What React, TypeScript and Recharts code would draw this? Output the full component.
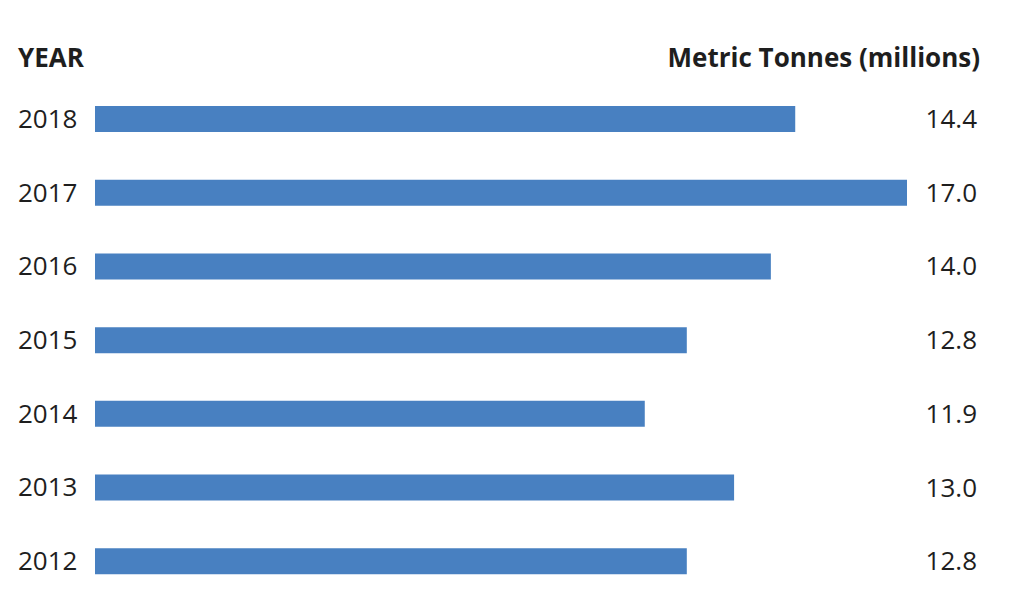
import React from 'react';
import { BarChart, Bar, XAxis, YAxis, LabelList } from 'recharts';

const years = ['2018', '2017', '2016', '2015', '2014', '2013', '2012'];
const tonnesLabels = ['14.4', '17.0', '14.0', '12.8', '11.9', '13.0', '12.8'];
// bar lengths as drawn in the reference (millions of tonnes)
const barValues = [14.66, 17.0, 14.15, 12.39, 11.51, 13.38, 12.39];

const headerLeft = 'YEAR';
const headerRight = 'Metric Tonnes (millions)';

const data = years.map((y, i) => ({ year: y, value: barValues[i], label: tonnesLabels[i] }));

const FONT = '"Open Sans", sans-serif';
const TEXT = '#1e1e1e';
const BAR = '#4880C1';

const YearTick = (props: any) => {
  const { y, payload } = props;
  return (
    <text x={18} y={y} dy={9} textAnchor="start" fontFamily={FONT} fontSize={26} fill={TEXT}>
      {payload.value}
    </text>
  );
};

const ValueLabel = (props: any) => {
  const { y, height, index } = props;
  return (
    <text x={977} y={y + height / 2} dy={9} textAnchor="end" fontFamily={FONT} fontSize={26} fill={TEXT}>
      {tonnesLabels[index]}
    </text>
  );
};

export default function App() {
  return (
    <div style={{ position: 'absolute', left: 0, top: 0, width: 1024, height: 614, background: '#fff' }}>
      <svg width={1024} height={614} style={{ position: 'absolute', left: 0, top: 0 }}>
        <text x={18} y={67} fontFamily={FONT} fontWeight={700} fontSize={26} fill={TEXT}>
          {headerLeft}
        </text>
        <text x={980} y={67} textAnchor="end" fontFamily={FONT} fontWeight={700} fontSize={26} fill={TEXT}>
          {headerRight}
        </text>
      </svg>
      <div style={{ position: 'absolute', left: 0, top: 0 }}>
        <BarChart
          width={1024}
          height={614}
          data={data}
          layout="vertical"
          margin={{ top: 82, right: 117, bottom: 16, left: 0 }}
        >
          <XAxis type="number" domain={[0, 17]} hide />
          <YAxis
            type="category"
            dataKey="year"
            width={95}
            axisLine={false}
            tickLine={false}
            tick={<YearTick />}
          />
          <Bar dataKey="value" fill={BAR} barSize={26} isAnimationActive={false}>
            <LabelList dataKey="label" content={<ValueLabel />} />
          </Bar>
        </BarChart>
      </div>
    </div>
  );
}
